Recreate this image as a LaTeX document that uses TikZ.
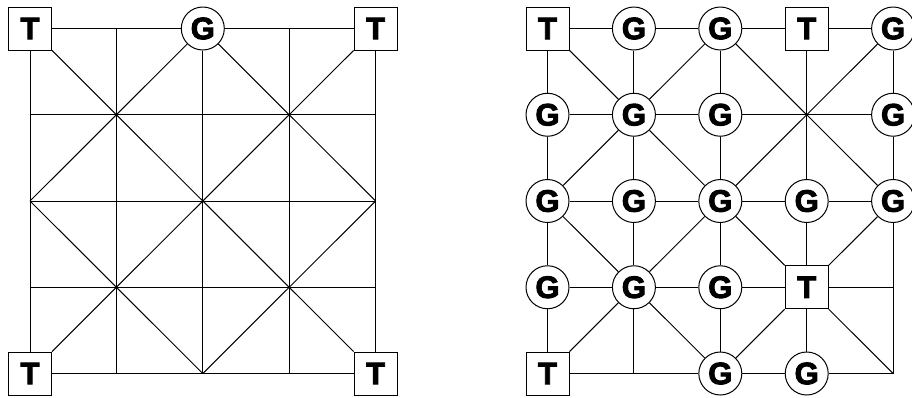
\documentclass[tikz,border=0pt]{standalone}
\usepackage{fontspec}
\setmainfont{Liberation Sans}
\newfontfamily\lblfont[FakeBold=3]{Liberation Sans Bold}
\begin{document}
\begin{tikzpicture}[x=1pt,y=-1pt,
  tnode/.style={draw, line width=1pt, fill=white, minimum size=43pt, inner sep=0pt, font=\lblfont\fontsize{31}{31}\selectfont},
  gnode/.style={circle, draw, line width=1pt, fill=white, minimum size=43pt, inner sep=0pt, font=\lblfont\fontsize{31}{31}\selectfont},
  edge/.style={line width=1pt}]
\useasboundingbox (0,0) rectangle (912,397);
% grid coordinates
\foreach \i in {0,...,4}{
  \foreach \j in {0,...,4}{
    \coordinate (L\i\j) at ({30+\i*86.4},{28.5+\j*86.25});
    \coordinate (R\i\j) at ({547.5+\i*86.4},{28.5+\j*86.25});
  }
}
% left nodes
\foreach \n/\t in {00/T,40/T,04/T,44/T}{ \node[tnode] (L\n) at (L\n) {\t}; }
\node[gnode] (L20) at (L20) {G};
% right nodes
\foreach \n in {00,30,04,33}{ \node[tnode] (R\n) at (R\n) {T}; }
\foreach \n in {10,20,40,01,11,21,41,02,12,22,32,42,03,13,23,24,34}{ \node[gnode] (R\n) at (R\n) {G}; }
% edges
\foreach \p in {L,R}{
  \foreach \j in {0,...,4}{
    \foreach \i/\k in {0/1,1/2,2/3,3/4}{
      \draw[edge] (\p\i\j) -- (\p\k\j);
      \draw[edge] (\p\j\i) -- (\p\j\k);
    }
  }
  \foreach \cx/\cy/\ax/\bx/\ay/\by in {1/1/0/2/0/2, 3/1/2/4/0/2, 1/3/0/2/2/4, 3/3/2/4/2/4}{
    \draw[edge] (\p\ax\ay) -- (\p\cx\cy);
    \draw[edge] (\p\cx\cy) -- (\p\bx\by);
    \draw[edge] (\p\bx\ay) -- (\p\cx\cy);
    \draw[edge] (\p\cx\cy) -- (\p\ax\by);
  }
}
\end{tikzpicture}
\end{document}
